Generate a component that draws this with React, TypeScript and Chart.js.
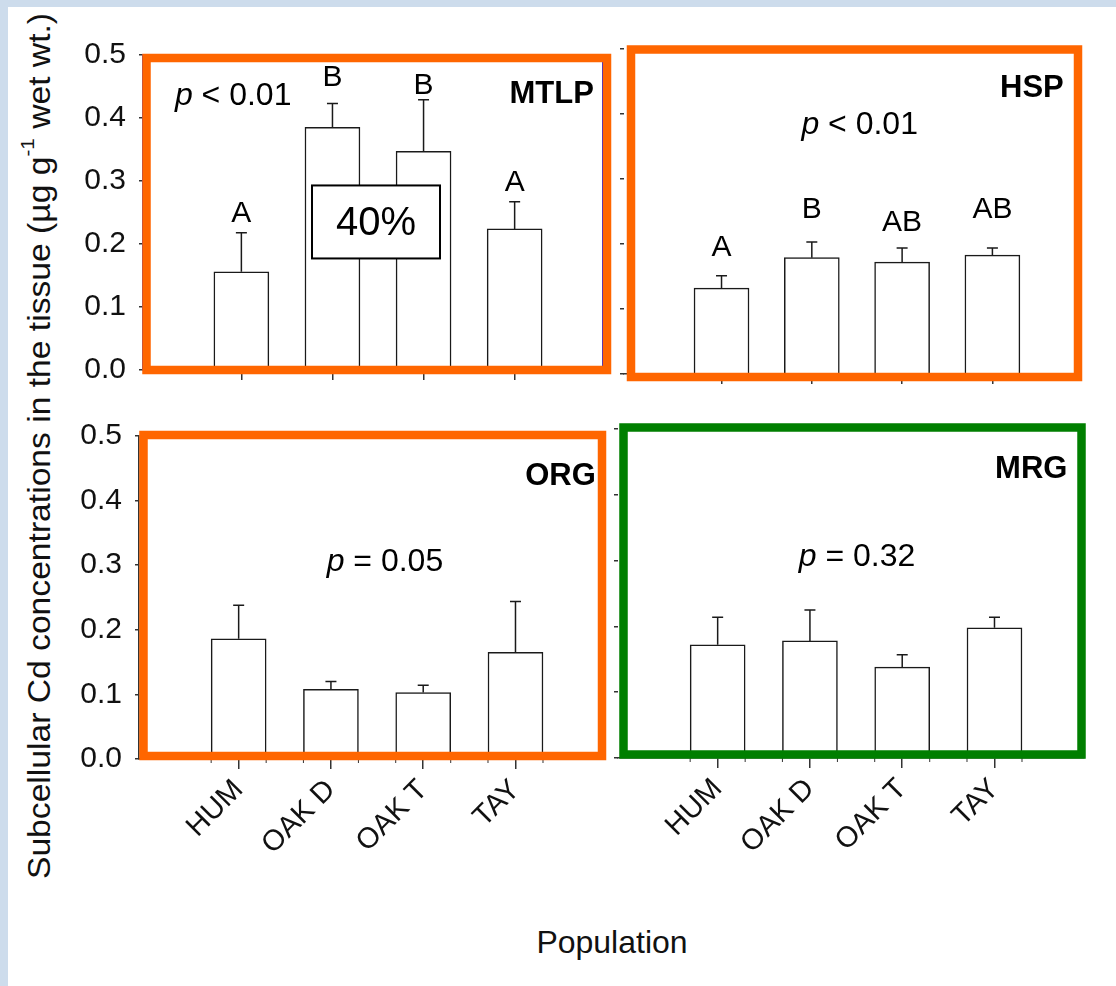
import React, { useEffect, useLayoutEffect, useRef, useState } from 'react';
import { Chart, registerables } from 'chart.js';

Chart.register(...registerables);

const FONT = "'Liberation Sans', Arial, Helvetica, sans-serif";
Chart.defaults.font.family = FONT;

// ---------- data ----------
const categories = ['HUM', 'OAK D', 'OAK T', 'TAY'];
const yTickValues = [0, 0.1, 0.2, 0.3, 0.4, 0.5];

const mtlpMean = [0.156, 0.385, 0.347, 0.224];
const mtlpSE = [0.062, 0.038, 0.082, 0.043];
const hspMean = [0.132, 0.179, 0.172, 0.183];
const hspSE = [0.019, 0.024, 0.022, 0.011];
const orgMean = [0.186, 0.108, 0.103, 0.165];
const orgSE = [0.052, 0.012, 0.011, 0.079];
const mrgMean = [0.172, 0.178, 0.138, 0.198];
const mrgSE = [0.042, 0.047, 0.019, 0.016];

const mtlpLetters = ['A', 'B', 'B', 'A'];
const hspLetters = ['A', 'B', 'AB', 'AB'];

const ORANGE = '#ff6600';
const GREEN = '#007f00';
const INK = '#1a1a1a';

type Rect = { l: number; t: number; r: number; b: number };
type PanelDef = {
  title: string;
  mean: number[];
  se: number[];
  letters?: string[];
  letterY?: number[];
  pOp: string;
  pVal: string;
  pX: number;
  pY: number;
  titleX: number;
  titleY: number;
  area: Rect;
  frame: Rect; // offsets of frame stroke centre from chart area edges
  frameColor: string;
  showYLabels: boolean;
  showXLabels: boolean;
  showYLine: boolean;
  blueEdge?: boolean;
  note?: { text: string; x: number; y: number; w: number; h: number };
};

const X_MIN = -0.08;
const X_MAX = 4.97;
const BAR_W = 55;

const panels: PanelDef[] = [
  {
    title: 'MTLP', mean: mtlpMean, se: mtlpSE,
    letters: mtlpLetters, letterY: [0.248, 0.464, 0.452, 0.298],
    pOp: '<', pVal: '0.01', pX: 0.91, pY: 0.435,
    titleX: 4.87, titleY: 0.438,
    area: { l: 143, t: 48, r: 603, b: 379 },
    frame: { l: 3.5, t: 3, r: 4, b: 0 },
    frameColor: ORANGE, showYLabels: true, showXLabels: false, showYLine: true,
    blueEdge: true,
    note: { text: '40%', x: 2.478, y: 0.235, w: 128, h: 73 },
  },
  {
    title: 'HSP', mean: hspMean, se: hspSE,
    letters: hspLetters, letterY: [0.195, 0.252, 0.232, 0.252],
    pOp: '<', pVal: '0.01', pX: 2.53, pY: 0.383,
    titleX: 4.79, titleY: 0.44,
    area: { l: 624, t: 49, r: 1080, b: 374 },
    frame: { l: 7, t: 0.5, r: -2, b: 3 },
    frameColor: ORANGE, showYLabels: false, showXLabels: false, showYLine: false,
  },
  {
    title: 'ORG', mean: orgMean, se: orgSE,
    pOp: '=', pVal: '0.05', pX: 2.585, pY: 0.305,
    titleX: 4.87, titleY: 0.438,
    area: { l: 139, t: 429, r: 605, b: 759 },
    frame: { l: 4.5, t: -1, r: -3, b: -3 },
    frameColor: ORANGE, showYLabels: true, showXLabels: true, showYLine: true,
  },
  {
    title: 'MRG', mean: mrgMean, se: mrgSE,
    pOp: '=', pVal: '0.32', pX: 2.51, pY: 0.305,
    titleX: 4.79, titleY: 0.438,
    area: { l: 618, t: 429, r: 1084, b: 758 },
    frame: { l: 5.5, t: -1.5, r: -2.5, b: -3.5 },
    frameColor: GREEN, showYLabels: false, showXLabels: true, showYLine: false,
  },
];

const Y_W = 70;
const PAD_T = 24;
const PAD_R = 14;

function PanelChart({ p }: { p: PanelDef }) {
  const ref = useRef<HTMLCanvasElement | null>(null);
  const X_H = p.showXLabels ? 150 : 22;
  const left = p.area.l - Y_W;
  const top = p.area.t - PAD_T;
  const width = p.area.r + PAD_R - left;
  const height = p.area.b + X_H - top;

  useEffect(() => {
    if (!ref.current) return;
    const overlay = {
      id: 'overlay',
      afterDatasetsDraw(chart: any) {
        const ctx: CanvasRenderingContext2D = chart.ctx;
        const xs = chart.scales.x;
        const ys = chart.scales.y;
        const ca = chart.chartArea;
        ctx.save();
        // error bars (upper only)
        ctx.strokeStyle = INK;
        ctx.lineWidth = 1.5;
        p.mean.forEach((m, i) => {
          const x = xs.getPixelForValue(i + 1);
          const y0 = ys.getPixelForValue(m);
          const y1 = ys.getPixelForValue(m + p.se[i]);
          ctx.beginPath();
          ctx.moveTo(x, y0);
          ctx.lineTo(x, y1);
          ctx.moveTo(x - 5.5, y1);
          ctx.lineTo(x + 5.5, y1);
          ctx.stroke();
        });
        // small minor ticks at bar edges below the x axis
        ctx.strokeStyle = '#333';
        ctx.lineWidth = 1;
        p.mean.forEach((_, i) => {
          const x = xs.getPixelForValue(i + 1);
          [x - BAR_W / 2, x + BAR_W / 2].forEach((ex) => {
            ctx.beginPath();
            ctx.moveTo(ex, ca.bottom);
            ctx.lineTo(ex, ca.bottom + 4);
            ctx.stroke();
          });
        });
        if (p.blueEdge) {
          ctx.strokeStyle = '#2a2ae0';
          ctx.lineWidth = 1;
          ctx.beginPath();
          ctx.moveTo(ca.right - 0.5, ca.top);
          ctx.lineTo(ca.right - 0.5, ca.bottom);
          ctx.moveTo(ca.left + 0.5, ca.top);
          ctx.lineTo(ca.left + 0.5, ca.bottom);
          ctx.stroke();
        }
        // coloured frame
        ctx.strokeStyle = p.frameColor;
        ctx.lineWidth = 8.5;
        ctx.lineJoin = 'miter';
        const fl = ca.left + p.frame.l;
        const ft = ca.top + p.frame.t;
        const fr = ca.right + p.frame.r;
        const fb = ca.bottom + p.frame.b;
        ctx.strokeRect(fl, ft, fr - fl, fb - ft);

        ctx.fillStyle = '#000';
        ctx.textBaseline = 'middle';
        // panel title
        ctx.font = `bold 31px ${FONT}`;
        ctx.textAlign = 'right';
        ctx.fillText(p.title, xs.getPixelForValue(p.titleX), ys.getPixelForValue(p.titleY));
        // p value
        ctx.textAlign = 'left';
        const italic = `italic 32px ${FONT}`;
        const normal = `32px ${FONT}`;
        ctx.font = italic;
        const wP = ctx.measureText('p').width;
        const rest = ` ${p.pOp} ${p.pVal}`;
        ctx.font = normal;
        const wR = ctx.measureText(rest).width;
        const cx = xs.getPixelForValue(p.pX);
        const cy = ys.getPixelForValue(p.pY);
        const sx = cx - (wP + wR) / 2;
        ctx.font = italic;
        ctx.fillText('p', sx, cy);
        ctx.font = normal;
        ctx.fillText(rest, sx + wP, cy);
        // letters
        if (p.letters && p.letterY) {
          ctx.font = `30px ${FONT}`;
          ctx.textAlign = 'center';
          p.letters.forEach((t, i) => {
            ctx.fillText(t, xs.getPixelForValue(i + 1), ys.getPixelForValue(p.letterY![i]));
          });
        }
        // note box
        if (p.note) {
          const nx = xs.getPixelForValue(p.note.x);
          const ny = ys.getPixelForValue(p.note.y);
          ctx.fillStyle = '#fff';
          ctx.fillRect(nx - p.note.w / 2, ny - p.note.h / 2, p.note.w, p.note.h);
          ctx.strokeStyle = '#000';
          ctx.lineWidth = 2;
          ctx.strokeRect(nx - p.note.w / 2, ny - p.note.h / 2, p.note.w, p.note.h);
          ctx.fillStyle = '#000';
          ctx.font = `40px ${FONT}`;
          ctx.textAlign = 'center';
          ctx.fillText(p.note.text, nx, ny + 2);
        }
        ctx.restore();
      },
    };

    const chart = new Chart(ref.current, {
      type: 'bar',
      data: {
        datasets: [
          {
            data: p.mean.map((m, i) => ({ x: i + 1, y: m })),
            backgroundColor: '#ffffff',
            borderColor: INK,
            borderWidth: 1.5,
            barThickness: BAR_W,
          } as any,
        ],
      },
      options: {
        responsive: false,
        animation: false,
        devicePixelRatio: 1,
        layout: { padding: { top: PAD_T, right: PAD_R, left: 0, bottom: 0 } },
        plugins: {
          legend: { display: false },
          tooltip: { enabled: false },
          title: { display: false },
        },
        scales: {
          x: {
            type: 'linear',
            min: X_MIN,
            max: X_MAX,
            offset: false,
            afterBuildTicks: (axis: any) => {
              axis.ticks = categories.map((_, i) => ({ value: i + 1 }));
            },
            afterFit: (axis: any) => {
              axis.height = X_H;
            },
            grid: {
              display: true,
              offset: false,
              drawOnChartArea: false,
              drawTicks: true,
              tickLength: 10,
              color: '#333',
              lineWidth: 1.5,
            },
            border: { display: true, color: '#333', width: 1.5 },
            ticks: {
              display: p.showXLabels,
              autoSkip: false,
              minRotation: 45,
              maxRotation: 45,
              padding: 4,
              color: '#111',
              font: { size: 29, family: FONT },
              callback: (v: any) => categories[Math.round(Number(v)) - 1] ?? '',
            },
          },
          y: {
            type: 'linear',
            min: 0,
            max: 0.5,
            afterBuildTicks: (axis: any) => {
              axis.ticks = yTickValues.map((v) => ({ value: v }));
            },
            afterFit: (axis: any) => {
              axis.width = Y_W;
            },
            grid: {
              display: true,
              drawOnChartArea: false,
              drawTicks: true,
              tickLength: 4,
              color: '#333',
              lineWidth: 1.5,
            },
            border: { display: p.showYLine, color: p.blueEdge ? '#2a2ae0' : '#333', width: 1.5 },
            ticks: {
              display: p.showYLabels,
              padding: 13,
              color: '#111',
              font: { size: 30, family: FONT },
              callback: (v: any) => Number(v).toFixed(1),
            },
          },
        },
      },
      plugins: [overlay],
    } as any);
    return () => chart.destroy();
  }, []);

  return (
    <canvas
      ref={ref}
      width={width}
      height={height}
      style={{ position: 'absolute', left, top, width, height }}
    />
  );
}

function YTitle() {
  const ref = useRef<HTMLDivElement | null>(null);
  const [scale, setScale] = useState(1);
  useLayoutEffect(() => {
    if (ref.current) {
      const w = ref.current.offsetWidth;
      if (w > 0) setScale(866 / w);
    }
  }, []);
  return (
    <div
      ref={ref}
      style={{
        position: 'absolute',
        left: 39,
        top: 446,
        whiteSpace: 'nowrap',
        fontFamily: FONT,
        fontSize: 31,
        color: '#111',
        lineHeight: 1,
        transform: `translate(-50%, -50%) rotate(-90deg) scaleX(${scale})`,
      }}
    >
      Subcellular Cd concentrations in the tissue (µg g
      <sup style={{ fontSize: 19, verticalAlign: 'top', position: 'relative', top: -6 }}>-1</sup> wet wt.)
    </div>
  );
}

export default function App() {
  return (
    <div
      style={{
        position: 'fixed',
        left: 0,
        top: 0,
        width: 1116,
        height: 986,
        background: '#cddcec',
        overflow: 'hidden',
      }}
    >
      <div
        style={{
          position: 'absolute',
          left: 8,
          top: 7,
          right: 0,
          bottom: 0,
          background: '#ffffff',
        }}
      />
      {panels.map((p) => (
        <PanelChart key={p.title} p={p} />
      ))}
      <YTitle />
      <div
        style={{
          position: 'absolute',
          left: 612,
          top: 942,
          transform: 'translate(-50%, -50%)',
          fontFamily: FONT,
          fontSize: 32,
          color: '#111',
          whiteSpace: 'nowrap',
          lineHeight: 1,
        }}
      >
        Population
      </div>
    </div>
  );
}
